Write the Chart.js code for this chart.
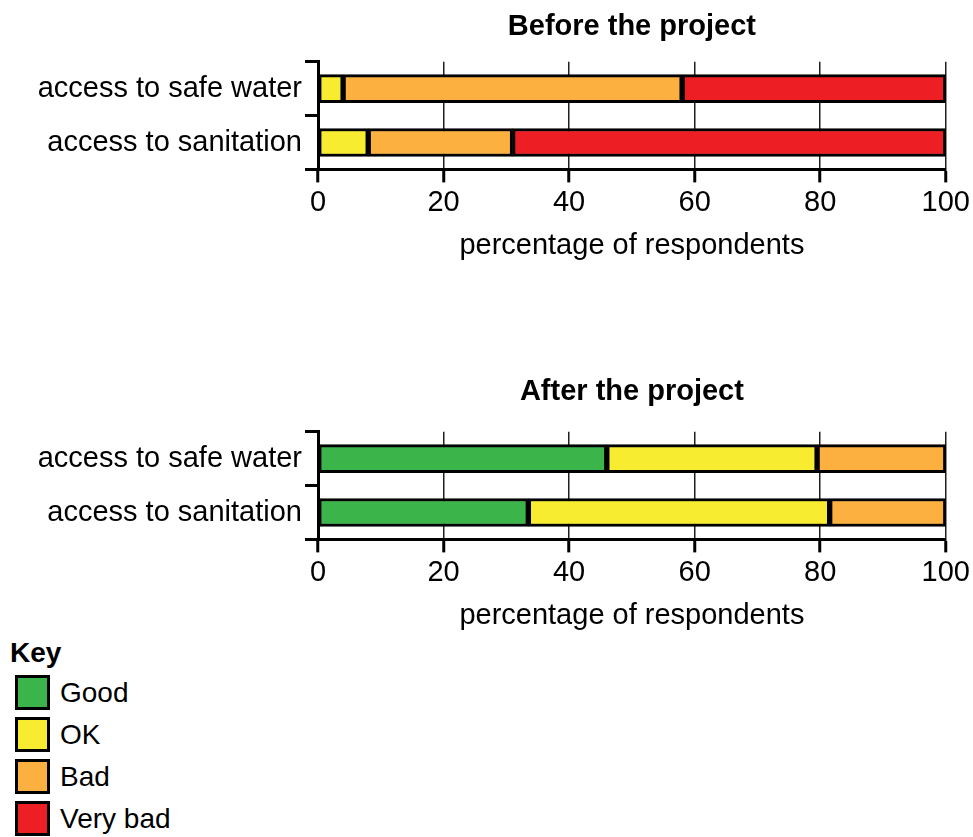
<!DOCTYPE html>
<html>
<head>
<meta charset="utf-8">
<script src="https://cdn.jsdelivr.net/npm/chart.js@4"></script>
<style>
  body { margin: 0; background: #fff; font-family: 'Liberation Sans', Arial, sans-serif; }
  .wrap { position: absolute; left: 0; width: 973px; }
  #before-wrap { top: 0; }
  #after-wrap { top: 370px; }
  #key { position: absolute; left: 10px; top: 636px; color: #000; }
  #key .title { font-weight: bold; font-size: 28px; line-height: 34px; margin-bottom: 5px; }
  #key .row { display: flex; align-items: center; height: 35px; margin-bottom: 7px; margin-left: 5px; font-size: 28px; }
  #key .box { width: 29px; height: 29px; border: 3px solid #000; margin-right: 10px; }
</style>
</head>
<body>
<div class="wrap" id="before-wrap"><canvas id="beforeChart" width="973" height="263"></canvas></div>
<div class="wrap" id="after-wrap"><canvas id="afterChart" width="973" height="263"></canvas></div>
<div id="key"></div>

<script>
// 数据：百分比
const categories = ['access to safe water', 'access to sanitation'];
const levels = ['Good', 'OK', 'Bad', 'Very bad'];
const levelColours = ['#3bb54a', '#f7ec2f', '#fbb040', '#ed1f24'];
const xTicks = [0, 20, 40, 60, 80, 100];

// Before the project
const beforeGood = [0, 0];
const beforeOK = [4, 8];
const beforeBad = [54, 23];
const beforeVeryBad = [42, 69];

// After the project
const afterGood = [46, 33.5];
const afterOK = [33.5, 48];
const afterBad = [20.5, 18.5];
const afterVeryBad = [0, 0];

const FONT = "'Liberation Sans', Arial, sans-serif";

const makeDatasets = (series) => series
    .map((values, i) => ({
        label: levels[i],
        data: values,
        backgroundColor: levelColours[i],
        borderColor: '#000',
        borderWidth: 3,
        borderSkipped: false,
        barThickness: 28
    }))
    .filter(ds => ds.data.some(v => v > 0));

function renderChart(canvasId, title, series, titlePad) {
    const ctx = document.getElementById(canvasId).getContext('2d');
    return new Chart(ctx, {
        type: 'bar',
        data: { labels: categories, datasets: makeDatasets(series) },
        options: {
            indexAxis: 'y',
            responsive: false,
            animation: false,
            layout: { padding: { left: 0, right: 27, top: 0, bottom: 0 } },
            plugins: {
                legend: { display: false },
                tooltip: { enabled: false },
                title: {
                    display: true,
                    fullSize: false,   // 标题居中于绘图区
                    text: title,
                    color: '#000',
                    font: { family: FONT, size: 29, weight: 'bold' },
                    padding: titlePad
                }
            },
            scales: {
                x: {
                    type: 'linear',
                    stacked: true,
                    min: 0,
                    max: 100,
                    afterBuildTicks: (s) => { s.ticks = xTicks.map(v => ({ value: v })); },
                    ticks: { color: '#000', font: { family: FONT, size: 29 }, padding: 3 },
                    grid: { color: '#231f20', lineWidth: 1.5, tickWidth: 3, tickColor: '#000', tickLength: 13 },
                    border: { color: '#000', width: 3 },
                    title: {
                        display: true,
                        text: 'percentage of respondents',
                        color: '#000',
                        font: { family: FONT, size: 29 },
                        padding: { top: 5, bottom: 0 }
                    }
                },
                y: {
                    stacked: true,
                    afterFit: (s) => { s.width = 318; },
                    ticks: { color: '#000', font: { family: FONT, size: 29 }, padding: 3 },
                    grid: { drawOnChartArea: false, tickLength: 13, tickWidth: 3, tickColor: '#000', offset: true },
                    border: { color: '#000', width: 3 }
                }
            }
        }
    });
}

function renderKey() {
    const key = document.getElementById('key');
    key.innerHTML = '<div class="title">Key</div>' + levels.map((name, i) =>
        `<div class="row"><span class="box" style="background:${levelColours[i]}"></span>${name}</div>`
    ).join('');
}

document.addEventListener('DOMContentLoaded', () => {
    renderChart('beforeChart', 'Before the project',
        [beforeGood, beforeOK, beforeBad, beforeVeryBad], { top: 10, bottom: 17 });
    renderChart('afterChart', 'After the project',
        [afterGood, afterOK, afterBad, afterVeryBad], { top: 5, bottom: 22 });
    renderKey();
});
</script>
</body>
</html>
